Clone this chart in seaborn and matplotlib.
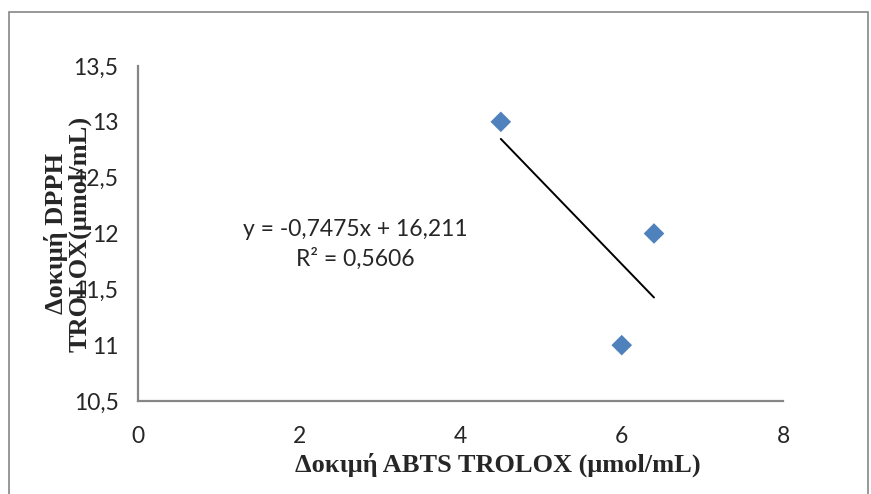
import matplotlib
matplotlib.use("Agg")
import matplotlib.pyplot as plt
import seaborn as sns
from matplotlib.patches import Rectangle

# data
abts = [4.5, 6.4, 6.0]
dpph = [13.0, 12.0, 11.0]
x_ticks = [0, 2, 4, 6, 8]
x_tick_labels = ["0", "2", "4", "6", "8"]
y_ticks = [10.5, 11.0, 11.5, 12.0, 12.5, 13.0, 13.5]
y_tick_labels = ["10,5", "11", "11,5", "12", "12,5", "13", "13,5"]
eq_text = "y = -0,7475x + 16,211\nR² = 0,5606"

sns.set_style("white")
plt.rcParams["font.family"] = ["Lato", "DejaVu Sans"]

fig = plt.figure(figsize=(8.71, 4.94), dpi=100)
ax = fig.add_axes([138 / 871, 1 - 401 / 494, (783 - 138) / 871, (401 - 66) / 494])

# chart area border
fig.patches.append(Rectangle((9 / 871, -0.05), (868 - 9) / 871, 1.05 - 12 / 494,
                             transform=fig.transFigure, fill=False,
                             edgecolor="#868686", linewidth=1.2))

sns.scatterplot(x=abts, y=dpph, marker="D", s=110, color="#4F81BD",
                edgecolor="none", ax=ax, zorder=3)
sns.regplot(x=abts, y=dpph, scatter=False, ci=None, truncate=True,
            line_kws={"color": "black", "linewidth": 1.4}, ax=ax)

ax.set_xlim(0, 8)
ax.set_ylim(10.5, 13.5)
ax.set_xticks(x_ticks)
ax.set_xticklabels(x_tick_labels)
ax.set_yticks(y_ticks)
ax.set_yticklabels(y_tick_labels)
ax.tick_params(direction="out", length=5, width=1.4, color="#868686",
               labelsize=16.5)
ax.tick_params(axis="x", pad=13)
ax.tick_params(axis="y", pad=9)

for s in ["top", "right"]:
    ax.spines[s].set_visible(False)
for s in ["left", "bottom"]:
    ax.spines[s].set_color("#868686")
    ax.spines[s].set_linewidth(1.6)

ax.set_xlabel("Δοκιμή ABTS TROLOX (μmol/mL)", family="Liberation Serif",
              fontweight="bold", fontsize=19)
ax.xaxis.set_label_coords(0.558, -0.155)
ax.set_ylabel("Δοκιμή DPPH\nTROLOX(μmol/mL)", family="Liberation Serif",
              fontweight="bold", fontsize=19, linespacing=1.0)
ax.yaxis.set_label_coords(-0.072, 0.5)

ax.text(2.69, 11.9, eq_text, ha="center", va="center", multialignment="center",
        fontsize=16.5, linespacing=1.4)

fig.savefig("out.png", dpi=100)
